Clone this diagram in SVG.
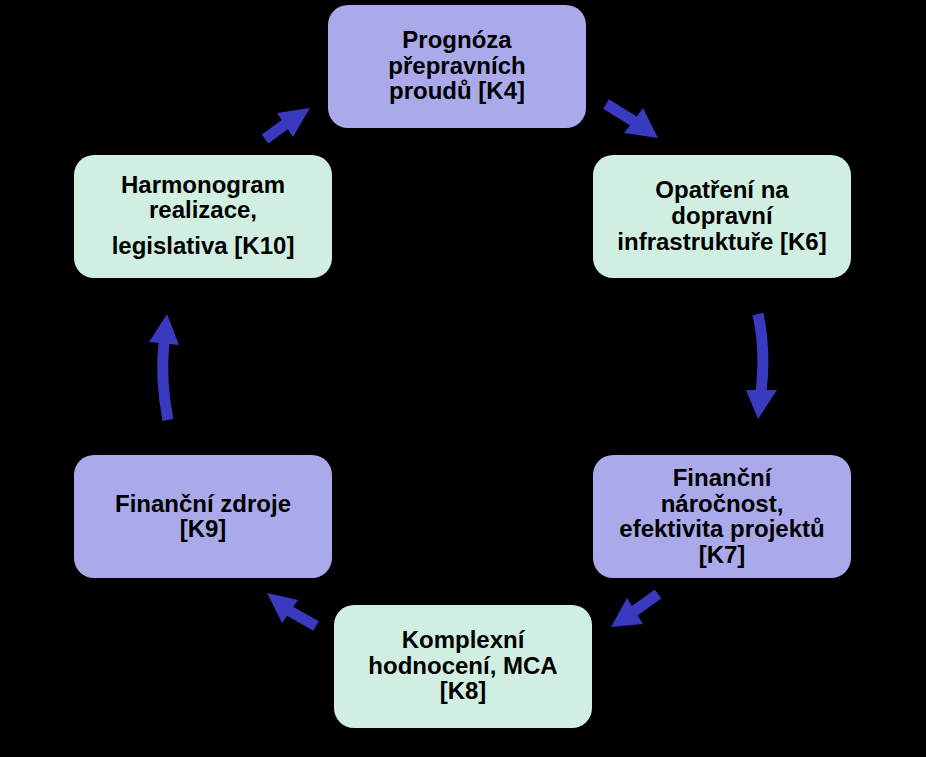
<svg xmlns="http://www.w3.org/2000/svg" width="926" height="757" viewBox="0 0 926 757">
<style>
.bg{fill:#000000}
.lav{fill:#aaaaea}
.grn{fill:#d0efe0}
.t{font-family:"Liberation Sans",Arial,sans-serif;font-size:24px;font-weight:bold;fill:#000000;text-anchor:middle}
.shaft{fill:none;stroke:#3a3ac0;stroke-width:11;stroke-linecap:butt}
.head{fill:#3a3ac0}
</style>
<rect class="bg" x="0" y="0" width="926" height="757"/>
<g id="node-k4">
<rect class="lav" x="328" y="5" width="258" height="123" rx="20" ry="20"/>
<text class="t" x="457" y="48">Prognóza</text>
<text class="t" x="457" y="74">přepravních</text>
<text class="t" x="457" y="99">proudů [K4]</text>
</g>
<g id="node-k6">
<rect class="grn" x="593" y="155" width="258" height="123" rx="20" ry="20"/>
<text class="t" x="722" y="198">Opatření na</text>
<text class="t" x="722" y="224">dopravní</text>
<text class="t" x="722" y="250">infrastruktuře [K6]</text>
</g>
<g id="node-k7">
<rect class="lav" x="593" y="455" width="258" height="123" rx="20" ry="20"/>
<text class="t" x="722" y="486">Finanční</text>
<text class="t" x="722" y="512">náročnost,</text>
<text class="t" x="722" y="537">efektivita projektů</text>
<text class="t" x="722" y="563">[K7]</text>
</g>
<g id="node-k8">
<rect class="grn" x="334" y="605" width="258" height="123" rx="20" ry="20"/>
<text class="t" x="463" y="648">Komplexní</text>
<text class="t" x="463" y="674">hodnocení, MCA</text>
<text class="t" x="463" y="699">[K8]</text>
</g>
<g id="node-k9">
<rect class="lav" x="74" y="455" width="258" height="123" rx="20" ry="20"/>
<text class="t" x="203" y="512">Finanční zdroje</text>
<text class="t" x="203" y="537">[K9]</text>
</g>
<g id="node-k10">
<rect class="grn" x="74" y="155" width="258" height="123" rx="20" ry="20"/>
<text class="t" x="203" y="193">Harmonogram</text>
<text class="t" x="203" y="218">realizace,</text>
<text class="t" x="203" y="254">legislativa [K10]</text>
</g>
<g id="connectors">
<path class="shaft" d="M265,139 L287,123"/>
<polygon class="head" points="277,113 293,137 310,108"/>
<path class="shaft" d="M606,104 L635,122"/>
<polygon class="head" points="643,108 624,133 658,138"/>
<path class="shaft" d="M758,314 Q766,352 761,392"/>
<polygon class="head" points="746,390 777,390 758,419"/>
<path class="shaft" d="M658,594 L633,612"/>
<polygon class="head" points="627,598 643,624 611,627"/>
<path class="shaft" d="M316,626 L288,610"/>
<polygon class="head" points="298,600 282,623 267,593"/>
<path class="shaft" d="M168,420 Q160,380 164,342"/>
<polygon class="head" points="149,342 179,345 167,314"/>
</g>
</svg>
